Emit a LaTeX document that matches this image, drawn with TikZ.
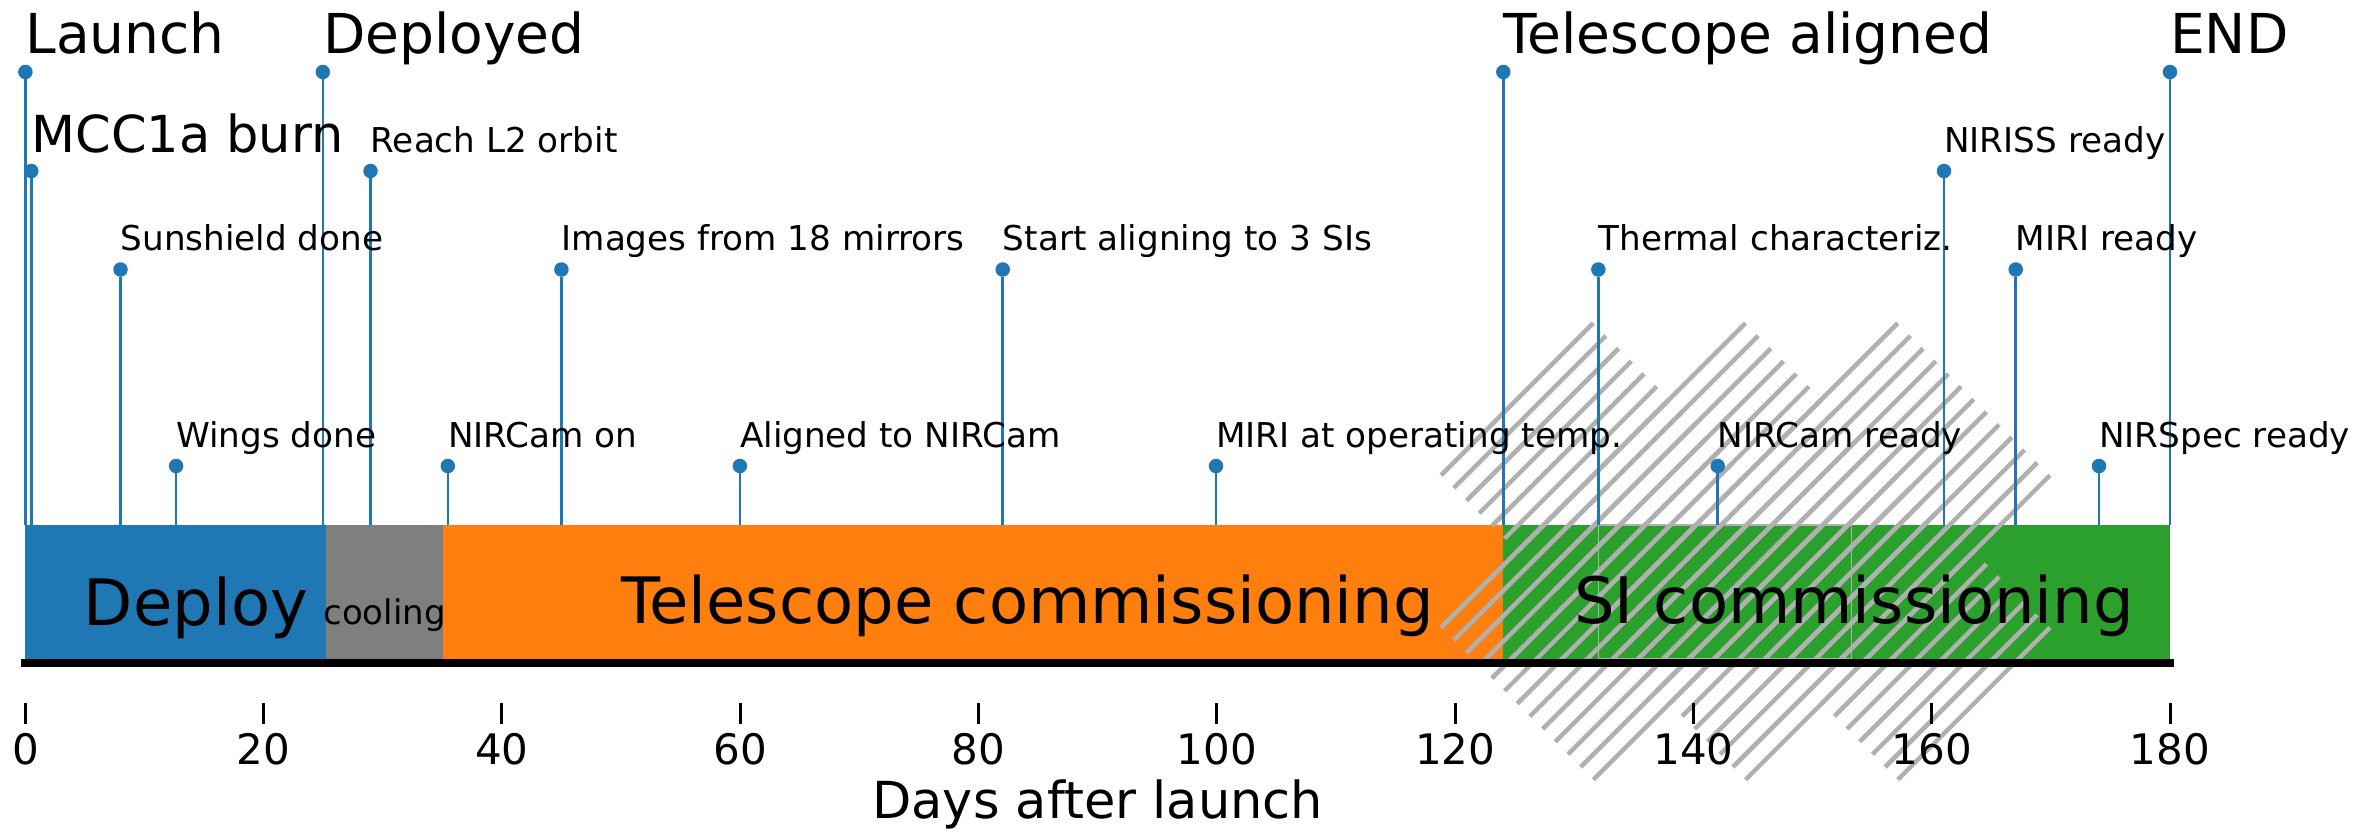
\documentclass[tikz,border=0pt]{standalone}
\usepackage{fontspec}
\setmainfont{DejaVu Sans}
\definecolor{tblue}{HTML}{1F77B4}
\definecolor{torange}{HTML}{FF7F0E}
\definecolor{tgreen}{HTML}{2CA02C}
\definecolor{tgray}{HTML}{7F7F7F}
\definecolor{hatchgray}{RGB}{176,176,176}

% day -> x position
\newcommand\dayx[1]{25.4+11.9144*(#1)}

% one milestone: dot, stem down to the bar, label above the dot
% #1 name, #2 x, #3 dot y, #4 label style, #5 text
\newcommand\milestone[5]{%
  \node[dot] (#1) at (#2,#3) {};
  \coordinate (#1-base) at (#2,525);
  \draw[stem] (#1-base) -- (#1);
  \node[lbl,#4] (#1-lbl) at (#2,{#3-19}) {#5};
}

\begin{document}
\begin{tikzpicture}[x=1pt,y=-1pt,
  dot/.style={circle,fill=tblue,draw=none,inner sep=0pt,minimum size=14.5pt},
  stem/.style={tblue,line width=2.5pt},
  lbl/.style={anchor=base west,inner sep=0pt},
  bigtxt/.style={font=\fontsize{55}{60}\selectfont},
  midtxt/.style={font=\fontsize{51}{55}\selectfont},
  smalltxt/.style={font=\fontsize{34.2}{38}\selectfont},
  phase/.style={anchor=base,inner sep=0pt,font=\fontsize{64}{68}\selectfont},
  hatchline/.style={hatchgray,line width=4.5pt,line cap=butt},
  ticklbl/.style={anchor=base,inner sep=0pt,font=\fontsize{42}{46}\selectfont},
]
\useasboundingbox (0,0) rectangle (2371,831);

% phase bars
\fill[tblue]   (25.4,525)  rectangle (325.9,661);
\fill[tgray]   (325.9,525) rectangle (443.3,661);
\fill[torange] (443.3,525) rectangle (1502.5,661);
\fill[tgreen]  (1502.5,525) rectangle (2170,661);

% hatched interval: pattern cells drawn as full diamonds of "/" lines
\def\P{152.2}
\foreach \cx in {1593.3,1745.5,1897.7}{
  \foreach \cy in {475.3,627.5}{
    \foreach \k in {-6,...,6}{
      \draw[hatchline] ({\cx+(\k*\P/6-\P)/2},{\cy+(\k*\P/6+\P)/2})
        -- ({\cx+(\k*\P/6+\P)/2},{\cy+(\k*\P/6-\P)/2});
    }
  }
}
\draw[hatchgray,line width=1.5pt] (1598.5,525) rectangle (1851.5,659);

% milestones
\milestone{launch}{25.4}{72}{bigtxt}{Launch}
\milestone{deployed}{322.8}{72}{bigtxt}{Deployed}
\milestone{telaligned}{1503.3}{72}{bigtxt}{Telescope aligned}
\milestone{theend}{2170}{72}{bigtxt}{END}

\milestone{mcc}{31.3}{171}{midtxt}{MCC1a burn}
\milestone{ltwo}{370.5}{171}{smalltxt}{Reach L2 orbit}
\milestone{nirissready}{1944}{171}{smalltxt}{NIRISS ready}

\milestone{sunshield}{120.5}{269.5}{smalltxt}{Sunshield done}
\milestone{images}{561.4}{269.5}{smalltxt}{Images from 18 mirrors}
\milestone{startalign}{1002.7}{269.5}{smalltxt}{Start aligning to 3 SIs}
\milestone{thermal}{1598.3}{269.5}{smalltxt}{Thermal characteriz.}
\milestone{miriready}{2015.7}{269.5}{smalltxt}{MIRI ready}

\milestone{wings}{176.1}{466}{smalltxt}{Wings done}
\milestone{nircamon}{447.8}{466}{smalltxt}{NIRCam on}
\milestone{alignednircam}{739.9}{466}{smalltxt}{Aligned to NIRCam}
\milestone{miritemp}{1216}{466}{smalltxt}{MIRI at operating temp.}
\milestone{nircamready}{1717.7}{466}{smalltxt}{NIRCam ready}
\milestone{nirspecready}{2099}{466}{smalltxt}{NIRSpec ready}

% phase labels
\node[phase] (deploy) at (196,625) {Deploy};
\node[phase,font=\fontsize{34}{38}\selectfont] (cooling) at (384.5,624) {cooling};
\node[phase] (telcomm) at (1027.5,623.5) {Telescope commissioning};
\node[phase] (sicomm) at (1854,623.5) {SI commissioning};

% time axis
\coordinate (axisL) at (21,663);
\coordinate (axisR) at (2174,663);
\draw[black,line width=8pt] (axisL) -- (axisR);
\foreach \d in {0,20,...,180}{
  \coordinate (tick\d) at ({\dayx{\d}},703);
  \draw[black,line width=3pt] (tick\d) -- ++(0,21);
  \node[ticklbl] (ticklbl\d) at ({\dayx{\d}},764) {\d};
}
\node[anchor=base,inner sep=0pt,font=\fontsize{51}{55}\selectfont] (xlabel) at (1097.7,818) {Days after launch};
\end{tikzpicture}
\end{document}
